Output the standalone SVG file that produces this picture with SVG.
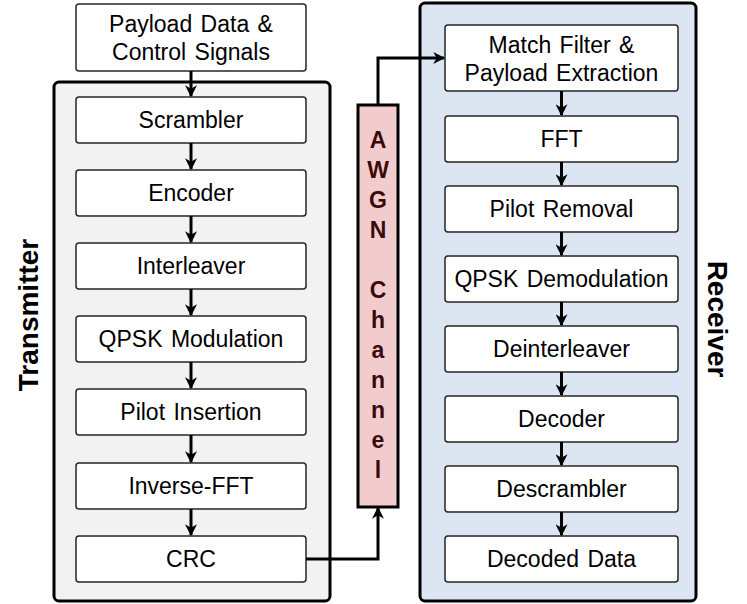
<svg xmlns="http://www.w3.org/2000/svg" width="747" height="604" viewBox="0 0 747 604">
<style>
.box{fill:#ffffff;stroke:#262626;stroke-width:1.5}
.lbl{font-family:"Liberation Sans",Arial,sans-serif;font-size:23px;word-spacing:2px;fill:#000;text-anchor:middle}
.side{font-family:"Liberation Sans",Arial,sans-serif;font-size:28px;font-weight:bold;fill:#000;text-anchor:middle}
.ch{font-family:"Liberation Sans",Arial,sans-serif;font-size:23px;font-weight:bold;fill:#3a0a0a;text-anchor:middle}
.con{fill:none;stroke:#000;stroke-width:3;marker-end:url(#ah)}
</style>
<defs>
<marker id="ah" viewBox="0 0 10 10" refX="9" refY="5" markerWidth="12" markerHeight="12" markerUnits="userSpaceOnUse" orient="auto">
<path d="M0,0 L10,5 L0,10 L3,5 z" fill="#000"/>
</marker>
</defs>
<g id="transmitter">
<rect x="54" y="82" width="276" height="519" rx="5" fill="#f2f2f2" stroke="#000" stroke-width="3"/>
<text class="side" transform="translate(38,315) rotate(-90)">Transmitter</text>
</g>
<g id="receiver">
<rect x="420" y="3" width="276" height="598" rx="5" fill="#dce6f2" stroke="#000" stroke-width="3"/>
<text class="side" transform="translate(708,319) rotate(90)">Receiver</text>
</g>
<g id="awgn">
<rect x="358" y="105" width="40" height="402" fill="#f2cccc" stroke="#000" stroke-width="3"/>
<text class="ch" x="378" y="148">A</text>
<text class="ch" x="378" y="178">W</text>
<text class="ch" x="378" y="208">G</text>
<text class="ch" x="378" y="238">N</text>
<text class="ch" x="378" y="298">C</text>
<text class="ch" x="378" y="328">h</text>
<text class="ch" x="378" y="358">a</text>
<text class="ch" x="378" y="388">n</text>
<text class="ch" x="378" y="418">n</text>
<text class="ch" x="378" y="448">e</text>
<text class="ch" x="378" y="478">l</text>
</g>
<g id="payload"><rect class="box" x="76" y="4" width="230" height="67" rx="3"/><text class="lbl" x="191" y="32">Payload Data &amp;</text><text class="lbl" x="191" y="60">Control Signals</text></g>
<g id="scrambler"><rect class="box" x="76" y="97" width="230" height="46" rx="3"/><text class="lbl" x="191" y="128">Scrambler</text></g>
<g id="encoder"><rect class="box" x="76" y="170" width="230" height="46" rx="3"/><text class="lbl" x="191" y="201">Encoder</text></g>
<g id="interleaver"><rect class="box" x="76" y="243" width="230" height="46" rx="3"/><text class="lbl" x="191" y="274">Interleaver</text></g>
<g id="qpskmod"><rect class="box" x="76" y="316" width="230" height="46" rx="3"/><text class="lbl" x="191" y="347">QPSK Modulation</text></g>
<g id="pilotins"><rect class="box" x="76" y="389" width="230" height="46" rx="3"/><text class="lbl" x="191" y="420">Pilot Insertion</text></g>
<g id="ifft"><rect class="box" x="76" y="463" width="230" height="46" rx="3"/><text class="lbl" x="191" y="494">Inverse-FFT</text></g>
<g id="crc"><rect class="box" x="76" y="536" width="230" height="46" rx="3"/><text class="lbl" x="191" y="567">CRC</text></g>
<g id="matchfilter"><rect class="box" x="445" y="25" width="233" height="66" rx="3"/><text class="lbl" x="561.5" y="53">Match Filter &amp;</text><text class="lbl" x="561.5" y="81">Payload Extraction</text></g>
<g id="fft"><rect class="box" x="445" y="116" width="233" height="46" rx="3"/><text class="lbl" x="561.5" y="147">FFT</text></g>
<g id="pilotrem"><rect class="box" x="445" y="186" width="233" height="46" rx="3"/><text class="lbl" x="561.5" y="217">Pilot Removal</text></g>
<g id="qpskdemod"><rect class="box" x="445" y="256" width="233" height="46" rx="3"/><text class="lbl" x="561.5" y="287">QPSK Demodulation</text></g>
<g id="deinterleaver"><rect class="box" x="445" y="326" width="233" height="46" rx="3"/><text class="lbl" x="561.5" y="357">Deinterleaver</text></g>
<g id="decoder"><rect class="box" x="445" y="396" width="233" height="46" rx="3"/><text class="lbl" x="561.5" y="427">Decoder</text></g>
<g id="descrambler"><rect class="box" x="445" y="466" width="233" height="46" rx="3"/><text class="lbl" x="561.5" y="497">Descrambler</text></g>
<g id="decoded"><rect class="box" x="445" y="536" width="233" height="46" rx="3"/><text class="lbl" x="561.5" y="567">Decoded Data</text></g>
<g id="connectors">
<line class="con" x1="191" y1="71" x2="191" y2="96"/>
<line class="con" x1="191" y1="143" x2="191" y2="169"/>
<line class="con" x1="191" y1="216" x2="191" y2="242"/>
<line class="con" x1="191" y1="289" x2="191" y2="315"/>
<line class="con" x1="191" y1="362" x2="191" y2="388"/>
<line class="con" x1="191" y1="435" x2="191" y2="462"/>
<line class="con" x1="191" y1="509" x2="191" y2="535"/>
<polyline class="con" points="306,559 378,559 378,508"/>
<polyline class="con" points="378,105 378,58 444,58"/>
<line class="con" x1="561.5" y1="91" x2="561.5" y2="115"/>
<line class="con" x1="561.5" y1="162" x2="561.5" y2="185"/>
<line class="con" x1="561.5" y1="232" x2="561.5" y2="255"/>
<line class="con" x1="561.5" y1="302" x2="561.5" y2="325"/>
<line class="con" x1="561.5" y1="372" x2="561.5" y2="395"/>
<line class="con" x1="561.5" y1="442" x2="561.5" y2="465"/>
<line class="con" x1="561.5" y1="512" x2="561.5" y2="535"/>
</g>
</svg>
